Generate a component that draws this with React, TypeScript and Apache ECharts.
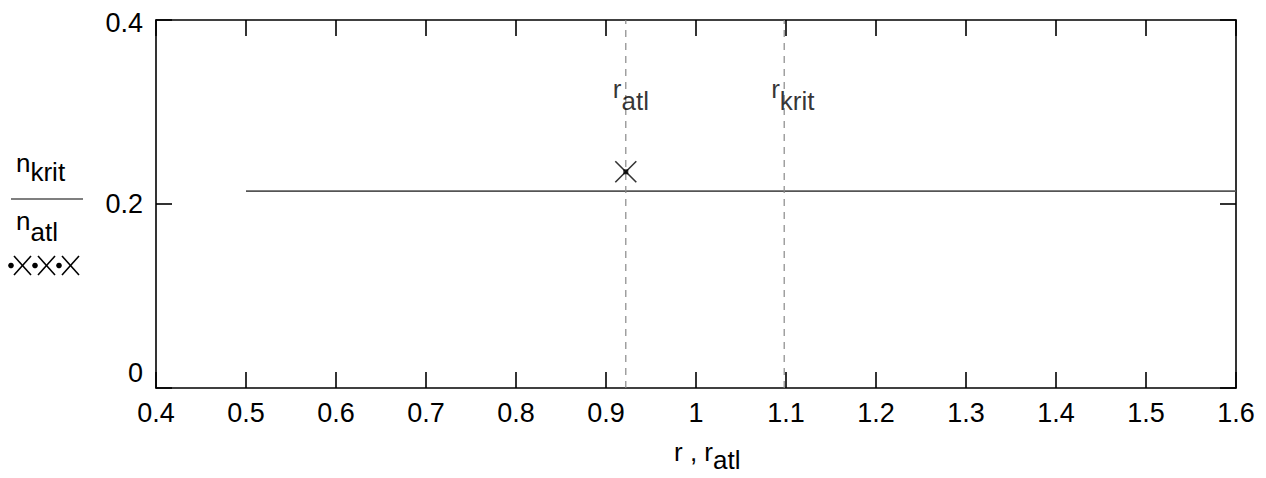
import React, { useEffect, useRef } from "react";
import * as echarts from "echarts";

// ---- data ----
const xRange = [0.4, 1.6];
const xStep = 0.1;
const yRange = [0, 0.4];
const yStep = 0.2;
const curveX = [0.5, 1.6];
const curveY = [0.214, 0.214];
const rAtl = 0.922;
const rKrit = 1.098;
const pointX = [0.922];
const pointY = [0.235];
const labelY = 0.318;

const FONT = "'Liberation Sans', Arial, Helvetica, sans-serif";
const TICK_FS = 27;
const LBL_FS = 26;

function fmt(v: number): string {
  const r = Math.round(v * 10) / 10;
  return String(r);
}

export default function App() {
  const ref = useRef<HTMLDivElement>(null);
  useEffect(() => {
    if (!ref.current) return;
    const chart = echarts.init(ref.current, undefined, { renderer: "svg" });
    const subRich = (fs: number, drop: number) => ({
      b: { fontSize: fs, fontFamily: FONT, color: "#000", padding: [0, 0, drop, 0] },
      s: { fontSize: fs, fontFamily: FONT, color: "#000", verticalAlign: "bottom" },
    });
    const axisCommon = {
      type: "value" as const,
      axisLine: { show: true, onZero: false, lineStyle: { color: "#000", width: 1.6 } },
      axisTick: { show: true, inside: true, length: 16, lineStyle: { color: "#000", width: 1.6 } },
      splitLine: { show: false },
    };
    const crossLines = (x0: number) => [
      { type: "line", shape: { x1: x0 + 3, y1: 256, x2: x0 + 20, y2: 275 }, style: { stroke: "#000", lineWidth: 1.6 } },
      { type: "line", shape: { x1: x0 + 20, y1: 256, x2: x0 + 3, y2: 275 }, style: { stroke: "#000", lineWidth: 1.6 } },
      { type: "circle", shape: { cx: x0, cy: 265.5, r: 2.8 }, style: { fill: "#000" } },
    ];
    chart.setOption({
      animation: false,
      backgroundColor: "#fff",
      grid: { left: 156, right: 30, top: 20, bottom: 90, containLabel: false },
      xAxis: [
        {
          ...axisCommon,
          position: "bottom",
          min: xRange[0],
          max: xRange[1],
          interval: xStep,
          axisLabel: {
            show: true,
            margin: 11,
            fontSize: TICK_FS,
            fontFamily: FONT,
            color: "#000",
            formatter: (v: number) => fmt(v),
          },
        },
        {
          ...axisCommon,
          position: "top",
          min: xRange[0],
          max: xRange[1],
          interval: xStep,
          axisLabel: { show: false },
        },
      ],
      yAxis: [
        {
          ...axisCommon,
          position: "left",
          min: yRange[0],
          max: yRange[1],
          interval: yStep,
          axisLabel: {
            show: true,
            margin: 13,
            fontSize: TICK_FS,
            fontFamily: FONT,
            color: "#000",
            formatter: (v: number) => {
              const s = fmt(v);
              if (v === 0) return "{z|" + s + "}";
              if (Math.abs(v - 0.4) < 1e-9) return "{t|" + s + "}";
              return s;
            },
            rich: {
              z: { fontSize: TICK_FS, fontFamily: FONT, color: "#000", padding: [0, 0, 30, 0] },
              t: { fontSize: TICK_FS, fontFamily: FONT, color: "#000", padding: [6, 0, 0, 0] },
            },
          },
        },
        {
          ...axisCommon,
          position: "right",
          min: yRange[0],
          max: yRange[1],
          interval: yStep,
          axisLabel: { show: false },
        },
      ],
      series: [
        {
          type: "line",
          data: curveX.map((x, i) => [x, curveY[i]]),
          symbol: "none",
          lineStyle: { color: "#555", width: 1.6 },
          silent: true,
        },
        {
          type: "line",
          data: [
            [rAtl, yRange[0]],
            [rAtl, yRange[1]],
          ],
          symbol: "none",
          lineStyle: { color: "#888", width: 1.2, type: [7, 6] },
          silent: true,
        },
        {
          type: "line",
          data: [
            [rKrit, yRange[0]],
            [rKrit, yRange[1]],
          ],
          symbol: "none",
          lineStyle: { color: "#888", width: 1.2, type: [7, 6] },
          silent: true,
        },
        {
          type: "scatter",
          data: pointX.map((x, i) => [x, pointY[i]]),
          symbol: "path://M0,0L10,10M10,0L0,10",
          symbolSize: 21,
          itemStyle: { color: "none", borderColor: "#000", borderWidth: 1.6 },
          silent: true,
          z: 5,
        },
        {
          type: "scatter",
          data: pointX.map((x, i) => [x, pointY[i]]),
          symbol: "rect",
          symbolSize: 5,
          itemStyle: { color: "#000" },
          silent: true,
          z: 6,
        },
        {
          type: "scatter",
          data: [
            { value: [rAtl, labelY], label: { formatter: "{b|r}{s|atl}" } },
            { value: [rKrit, labelY], label: { formatter: "{b|r}{s|krit}" } },
          ],
          symbolSize: 0,
          itemStyle: { color: "transparent" },
          label: {
            show: true,
            position: [-13, 0],
            align: "left",
            verticalAlign: "middle",
            rich: subRich(LBL_FS, 12),
          },
          silent: true,
          z: 7,
        },
      ],
      graphic: [
        {
          type: "text",
          left: 16,
          top: 150,
          style: { text: "{b|n}{s|krit}", rich: subRich(LBL_FS, 9) },
        },
        {
          type: "line",
          shape: { x1: 11, y1: 199, x2: 83, y2: 199 },
          style: { stroke: "#555", lineWidth: 1.5 },
        },
        {
          type: "text",
          left: 16,
          top: 208,
          style: { text: "{b|n}{s|atl}", rich: subRich(LBL_FS, 11) },
        },
        ...crossLines(11),
        ...crossLines(35),
        ...crossLines(59),
        {
          type: "text",
          left: 674,
          top: 439,
          style: { text: "{b|r , r}{s|atl}", rich: subRich(LBL_FS, 8) },
        },
      ],
    });
    return () => chart.dispose();
  }, []);
  return (
    <div
      ref={ref}
      style={{ position: "absolute", left: 0, top: 0, width: 1266, height: 478, background: "#fff" }}
    />
  );
}
